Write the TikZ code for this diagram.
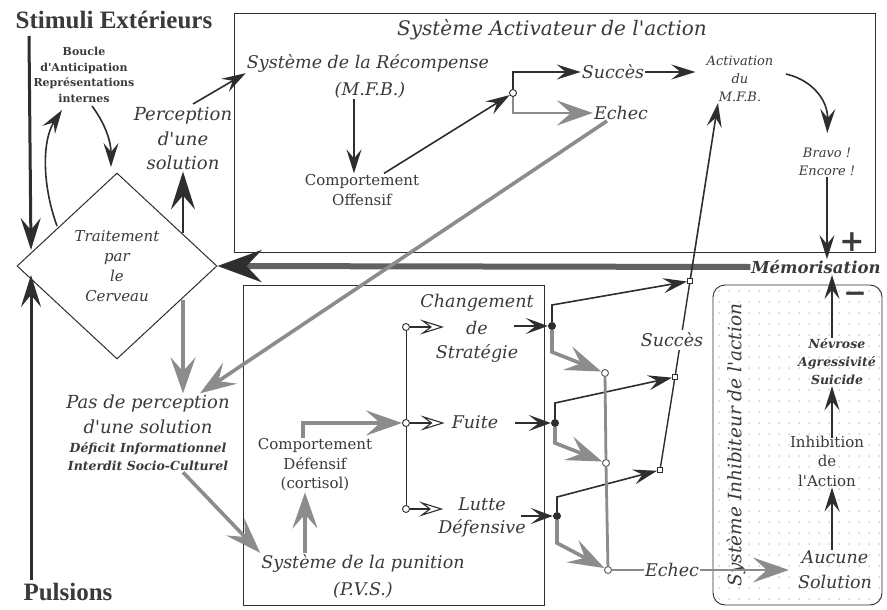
\documentclass[tikz,border=0pt]{standalone}
\usepackage{fontspec}
\setmainfont{Liberation Serif}
\newfontfamily\calfont{DejaVu Serif}
\usetikzlibrary{arrows.meta,shapes.geometric,calc}
\definecolor{ink}{HTML}{3A3A3A}
\definecolor{linec}{HTML}{2E2E2E}
\definecolor{hatchc}{HTML}{8C8C8C}
\definecolor{dotc}{HTML}{AAAAAA}
\tikzset{
  cal/.style={font=\calfont\itshape\fontsize{17.5}{25}\selectfont, text=ink, align=center, inner sep=1pt},
  caltitle/.style={font=\calfont\itshape\fontsize{20}{24}\selectfont, text=ink, inner sep=1pt},
  cals/.style={font=\calfont\itshape\fontsize{13}{18}\selectfont, text=ink, align=center, inner sep=1pt},
  calsb/.style={font=\calfont\bfseries\itshape\fontsize{12.5}{18}\selectfont, text=ink, align=center, inner sep=1pt},
  calb/.style={font=\calfont\bfseries\itshape\fontsize{16.5}{20}\selectfont, text=ink, inner sep=1pt},
  rmtxt/.style={font=\calfont\fontsize{15}{19.5}\selectfont, text=ink, align=center, inner sep=1pt},
  bouclet/.style={font=\calfont\bfseries\fontsize{11}{15.5}\selectfont, text=ink, align=center, inner sep=1pt},
  bigbold/.style={font=\bfseries\fontsize{25}{28}\selectfont, text=ink, inner sep=1pt},
  boxline/.style={draw=linec, line width=0.9pt},
  arr/.style={draw=linec, line width=1.6pt, -{Stealth[length=24pt,width=15pt,inset=9pt]}},
  arrb/.style={draw=linec, line width=1.6pt, -{Stealth[length=22pt,width=16pt,inset=10pt]}},
  openarr/.style={draw=linec, line width=1.1pt, -{Stealth[open,length=24pt,width=15pt,inset=10pt]}},
  hatch/.style={draw=hatchc, line width=3.6pt,
     -{Stealth[length=36pt,width=25pt,inset=14pt,color=hatchc]}},
  greyline/.style={draw=hatchc, line width=2.8pt},
  thk/.style={draw=linec, line width=3pt, -{Stealth[length=32pt,width=20pt,inset=12pt]}},
  blkbig/.style={draw=linec, line width=2.8pt, -{Stealth[length=38pt,width=24pt,inset=14pt]}},
  memoline/.style={draw=black!62, line width=6pt, -{Stealth[length=44pt,width=32pt,inset=15pt,color=linec]}},
  ocirc/.style={circle, draw=linec, line width=0.9pt, fill=white, inner sep=0pt, minimum size=7pt},
  gcirc/.style={circle, draw=hatchc!70!black, line width=1pt, fill=white, inner sep=0pt, minimum size=7pt},
  bdot/.style={circle, fill=linec, inner sep=0pt, minimum size=8pt},
  sq/.style={rectangle, draw=linec, line width=0.8pt, fill=white, inner sep=0pt, minimum size=5pt}
}
\begin{document}
\begin{tikzpicture}[x=1pt,y=-1pt]
\useasboundingbox (0,0) rectangle (887,610);
\fill[white] (0,0) rectangle (887,610);

% ---- boxes
\draw[boxline] (234,13) rectangle (875,252);
\draw[boxline] (243,285) rectangle (544,605);
\begin{scope}
  \clip[rounded corners=12pt] (713,285) rectangle (882,605);
  \foreach \xx in {719,729,...,879} {
    \foreach \yy in {291,302,...,602} {
      \fill[dotc] (\xx,\yy) circle (0.75);
    }
  }
\end{scope}
\draw[boxline, rounded corners=12pt] (713,285) rectangle (882,605);

% ---- texts
\node[bigbold] (stim) at (114,20) {Stimuli Extérieurs};
\node[bigbold] (puls) at (68,592) {Pulsions};
\node[bouclet] (boucle) at (84,75) {Boucle\\d'Anticipation\\Représentations\\internes};
\node[diamond, draw=linec, line width=1pt, minimum width=200pt, minimum height=186pt, inner sep=0pt,
      font=\calfont\itshape\fontsize{15}{20}\selectfont, text=ink, align=center] (brain) at (117,266)
      {Traitement\\par\\le\\Cerveau};
\node[cal, font=\calfont\itshape\fontsize{18}{24.5}\selectfont] (perc) at (183,139) {Perception\\d'une\\solution};
\node[caltitle] (sysact) at (552,30) {Système Activateur de l'action};
\node[cal] (rec1) at (368,63) {Système de la Récompense};
\node[cal] (rec2) at (370,90) {(M.F.B.)};
\node[rmtxt] (off) at (362,190) {Comportement\\Offensif};
\node[cal] (succ1) at (613,72) {Succès};
\node[cal] (ech1) at (621,113) {Echec};
\node[cals] (act) at (740,79) {Activation\\du\\M.F.B.};
\node[cals] (bravo) at (827,162) {Bravo !\\Encore !};
\node[font=\calfont\bfseries\fontsize{30}{30}\selectfont, text=ink, inner sep=0pt] (plus) at (852,242) {+};
\node[calb] (memo) at (816,267) {Mémorisation};
\node[cal, font=\calfont\itshape\fontsize{18}{25}\selectfont] (pas) at (148,414) {Pas de perception\\d'une solution};
\node[calsb] (defi) at (148,457) {Déficit Informationnel\\Interdit Socio-Culturel};
\node[cal] (pun1) at (363,563) {Système de la punition};
\node[cal] (pun2) at (363,590) {(P.V.S.)};
\node[rmtxt] (cdef) at (315,465) {Comportement\\Défensif\\(cortisol)};
\node[cal] (chgA) at (477,303) {Changement};
\node[cal] (chgB) at (477,328) {de};
\node[cal] (chgC) at (477,353) {Stratégie};
\node[cal] (fuite) at (475,422) {Fuite};
\node[cal] (lutA) at (482,504) {Lutte};
\node[cal] (lutB) at (482,528) {Défensive};
\node[cal] (ech2) at (672,570) {Echec};
\node[cal] (auc) at (835,570) {Aucune\\Solution};
\node[rmtxt] (inh) at (827,461) {Inhibition\\de\\l'Action};
\node[calsb] (nev) at (837,362) {Névrose\\Agressivité\\Suicide};
\node[font=\calfont\bfseries\fontsize{28}{28}\selectfont, text=ink, inner sep=0pt] (minus) at (855,297) {−};
\node[caltitle, font=\calfont\itshape\fontsize{18.5}{22}\selectfont, rotate=90] (sysinh) at (736,445) {Système Inhibiteur de l'action};

% ---- left arrows
\coordinate (stimA) at (29,36);
\coordinate (stimB) at (31,250);
\draw[thk] (stimA) -- (stimB);
\coordinate (pulA) at (31,580);
\coordinate (pulB) at (31,275);
\draw[thk] (pulA) -- (pulB);

% ---- anticipation loop
\coordinate (lpA) at (57,226);
\coordinate (lpB) at (62,110);
\draw[arr] (lpA) .. controls (42,185) and (42,140) .. (lpB);
\coordinate (lpC) at (92,106);
\coordinate (lpD) at (111,167);
\draw[arr] (lpC) .. controls (104,122) and (111,140) .. (lpD);

% ---- perception
\coordinate (brainNE) at (183,233);
\draw[blkbig] (brainNE) -- (perc.south);
\coordinate (percR) at (193,104);
\draw[arr] (percR) -- (rec1.south west);

% ---- activator system
\draw[arr] ([xshift=-16]rec2.south) -- ([xshift=-16]rec2.south |- off.north);
\node[ocirc] (c1) at (513,93) {};
\draw[arr] ([xshift=22]off.north) -- (c1);
\draw[arr] (c1.north) |- (succ1.west);
\draw[hatch, line width=2.4pt] (c1.south) |- (ech1.west);
\draw[arr, shorten >=10pt] (succ1.east) -- (succ1.east -| act.west);
\coordinate (actR) at (786,74);
\draw[arr, shorten >=14pt] (actR) .. controls (812,80) and (828,100) .. (bravo.north);
\draw[arr] (bravo.south) -- (bravo.south |- memo.north);
\draw[memoline] (memo.west) -- (brain.east);

% ---- to "pas de perception"
\draw[hatch] ([xshift=-14]ech1.south) -- ([xshift=52]pas.north);
\coordinate (brainSE) at (183,300);
\draw[hatch] (brainSE) -- (brainSE |- pas.north);
\draw[hatch] ([xshift=35]defi.south) -- (pun1.north west);

% ---- punishment system
\draw[hatch] ([xshift=-58]pun1.north) -- ([xshift=-58]pun1.north |- cdef.south);
\node[ocirc] (c2a) at (406,327) {};
\node[ocirc] (c2b) at (406,423) {};
\node[ocirc] (c2c) at (406,509) {};
\draw[draw=linec, line width=1pt] (c2a) -- (c2b) -- (c2c);
\draw[hatch] ([xshift=-12]cdef.north) |- (c2b.west);
\draw[openarr] (c2a) -- ($(c2a -| chgB.west)+(-21,0)$);
\draw[openarr] (c2b) -- ($(c2b -| fuite.west)+(-6,0)$);
\draw[openarr] (c2c) -- ($(c2c -| lutA.west)+(-14,0)$);

\node[bdot] (d1) at (552,326) {};
\node[bdot] (d2) at (555,423) {};
\node[bdot] (d3) at (557,516) {};
\draw[arrb] ($(d1)+(-38,0)$) -- (d1);
\draw[arrb] ($(d2)+(-40,0)$) -- (d2);
\draw[arrb] ($(d3)+(-36,0)$) -- (d3);

\node[sq] (s1) at (690,281) {};
\node[sq] (s2) at (675,377) {};
\node[sq] (s3) at (660,470) {};
\node[gcirc] (e1) at (605,373) {};
\node[gcirc] (e2) at (606,463) {};
\node[gcirc] (e3) at (608,570) {};

\draw[arr] (d1) -- ++(0,-21) -- (s1);
\draw[arr] (d2) -- ++(0,-20) -- (s2);
\draw[arr] (d3) -- ++(0,-19) -- (s3);
\draw[hatch] (d1) -- ++(0,26) -- (e1);
\draw[hatch] (d2) -- ++(0,20) -- (e2);
\draw[hatch] (d3) -- ++(0,27) -- (e3);

\draw[draw=linec, line width=1.4pt] (s3) -- (s2) -- (s1);
\draw[arr] (s1) -- ([xshift=-22]act.south);
\node[cal, fill=white, inner sep=3pt] (succ2) at (672,340) {Succès};

\draw[greyline] (e1) -- (e2) -- (e3);
\draw[greyline, line width=1.8pt] (e3) -- (ech2.west);
\draw[hatch, line width=2pt] (ech2.east) -- ($(auc.west |- ech2.east)+(-8,0)$);

% ---- inhibitor system
\draw[arr] ([xshift=-3]auc.north) -- ([xshift=-3]auc.north |- inh.south);
\draw[arr, shorten <=-4pt] ([xshift=5]inh.north) -- ([xshift=5]inh.north |- nev.south);
\draw[arr] ([xshift=-5]nev.north) -- ([xshift=-5]nev.north |- memo.south);
\end{tikzpicture}
\end{document}
